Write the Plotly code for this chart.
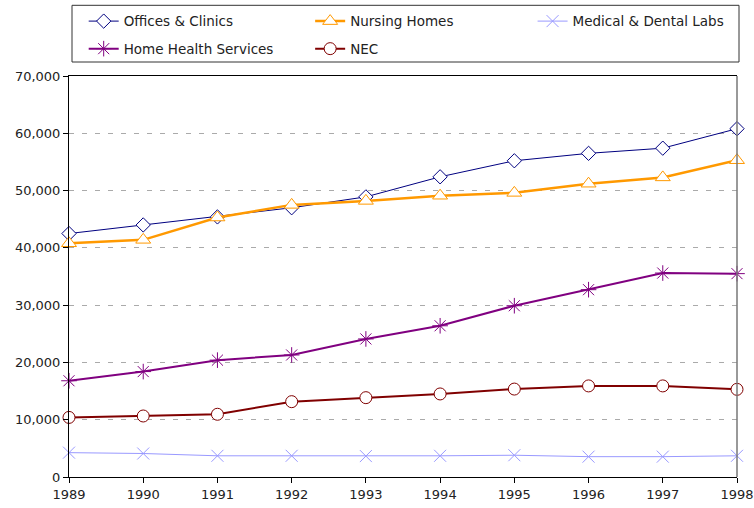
import plotly.graph_objects as go

years = [1989, 1990, 1991, 1992, 1993, 1994, 1995, 1996, 1997, 1998]
offices_clinics = [42500, 44000, 45400, 47000, 48900, 52400, 55200, 56500, 57400, 60800]
nursing_homes = [40800, 41400, 45300, 47500, 48200, 49100, 49600, 51200, 52300, 55300]
medical_dental_labs = [4250, 4100, 3700, 3700, 3650, 3700, 3800, 3550, 3550, 3700]
home_health = [16800, 18400, 20400, 21300, 24100, 26400, 29900, 32700, 35600, 35500]
nec = [10400, 10650, 10950, 13150, 13850, 14500, 15350, 15900, 15900, 15300]

y_ticks = [0, 10000, 20000, 30000, 40000, 50000, 60000, 70000]

FONT = "DejaVu Sans"

fig = go.Figure()

def add(name, vals, color, width, symbol, size, legend, group, filled):
    fig.add_trace(go.Scatter(
        x=years, y=vals, name=name, mode="lines+markers",
        line=dict(color=color, width=width),
        marker=dict(symbol=symbol, size=size,
                    color="white" if filled else color,
                    line=dict(color=color, width=1)),
        cliponaxis=False, legend=legend, legendgroup=group,
    ))

add("Offices & Clinics", offices_clinics, "#000080", 1, "diamond", 11, "legend", "a", True)
add("Nursing Homes", nursing_homes, "#FF9900", 2.5, "triangle-up", 13, "legend2", "b", True)
add("Medical & Dental Labs", medical_dental_labs, "#9999FF", 1, "x-thin-open", 12, "legend3", "c", False)
add("Home Health Services", home_health, "#800080", 2, "asterisk-open", 13, "legend", "d", False)
add("NEC", nec, "#800000", 2, "circle", 12, "legend2", "e", True)

leg_common = dict(orientation="v", xanchor="left", yanchor="top",
                  bgcolor="rgba(0,0,0,0)", borderwidth=0,
                  font=dict(family=FONT, size=13.5, color="#222"),
                  tracegroupgap=7, itemwidth=30)

fig.update_layout(
    width=754, height=508,
    margin=dict(l=69, r=17, t=76, b=31, autoexpand=False),
    paper_bgcolor="white", plot_bgcolor="white",
    font=dict(family=FONT, size=13, color="#222"),
    showlegend=True,
    legend=dict(x=0.022, y=1.175, **leg_common),
    legend2=dict(x=0.361, y=1.175, **leg_common),
    legend3=dict(x=0.694, y=1.175, **leg_common),
    xaxis=dict(range=[1989, 1998], tickmode="array", tickvals=years,
               ticktext=[str(y) for y in years],
               showline=True, linecolor="black", linewidth=1, mirror=True,
               ticks="outside", ticklen=5, tickcolor="black",
               showgrid=False, zeroline=False,
               tickfont=dict(family=FONT, size=13, color="#222")),
    yaxis=dict(range=[0, 70000], tickmode="array", tickvals=y_ticks,
               ticktext=[f"{v:,}" for v in y_ticks],
               showline=True, linecolor="black", linewidth=1,
               ticks="outside", ticklen=5, tickcolor="black",
               showgrid=True, gridcolor="#AAAAAA", griddash="5px,8px", gridwidth=1,
               zeroline=False,
               tickfont=dict(family=FONT, size=13, color="#222")),
    shapes=[
        dict(type="line", xref="paper", yref="paper", x0=1, x1=1, y0=0, y1=1,
             line=dict(color="#777777", width=1.5)),
        dict(type="rect", xref="paper", yref="paper", x0=0.0045, x1=1.003,
             y0=1.0349, y1=1.1763, line=dict(color="#333333", width=1),
             fillcolor="rgba(0,0,0,0)"),
    ],
)

# remove the browser's default page margin so the figure fills the window
fig.write_html("out.html", config={"displayModeBar": False},
               post_script="document.body.style.margin='0px';")
